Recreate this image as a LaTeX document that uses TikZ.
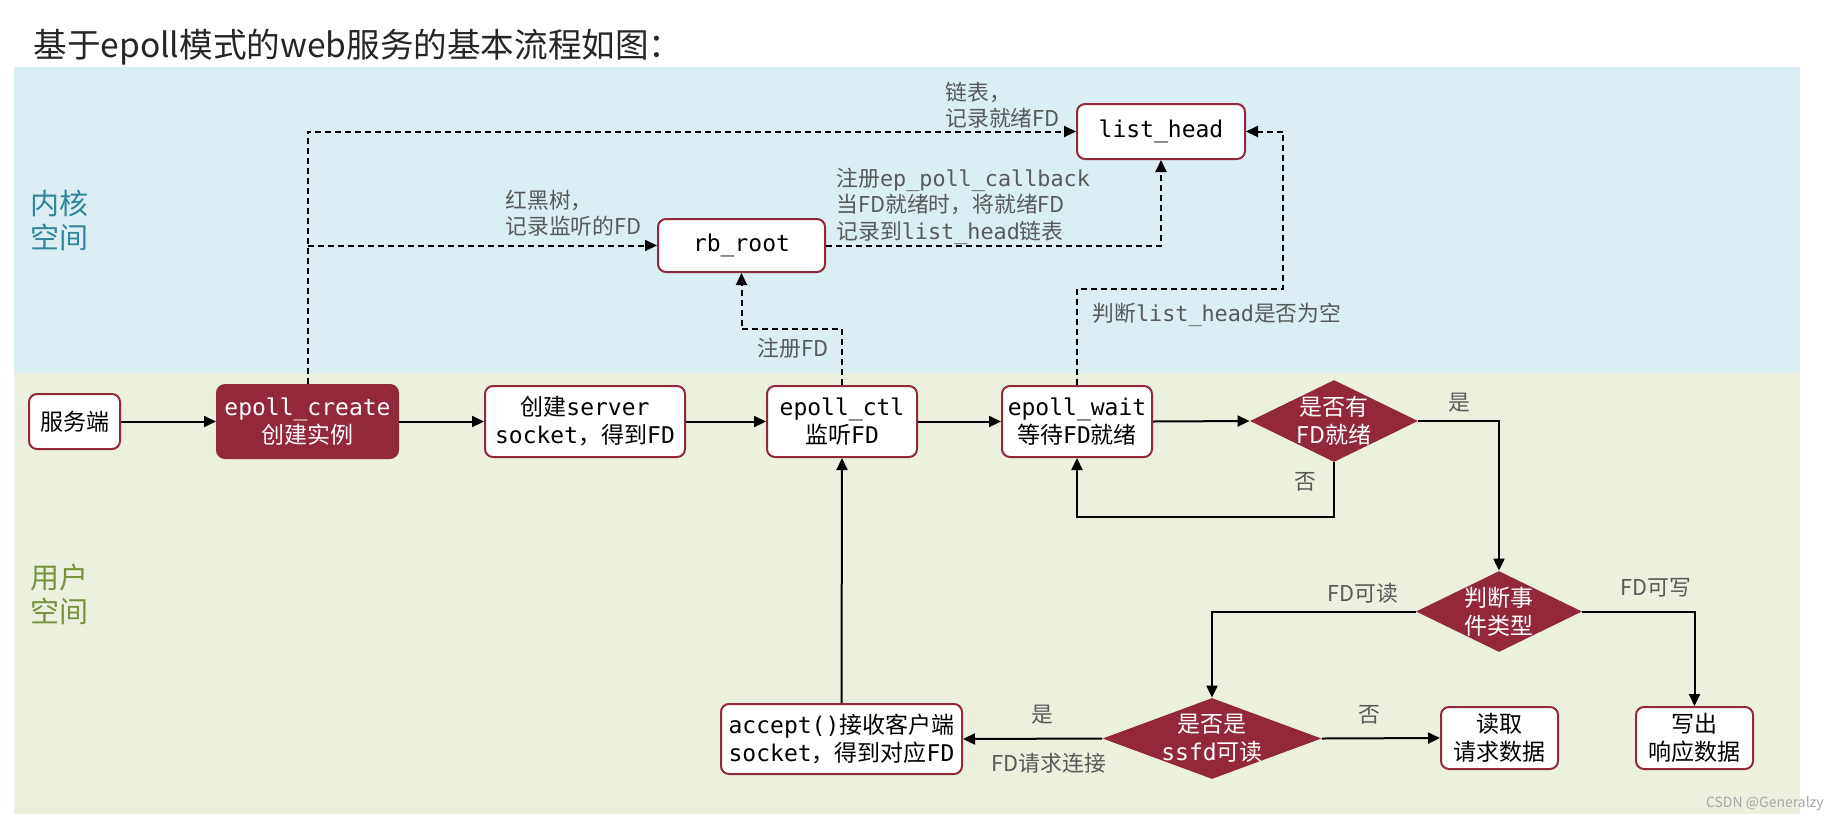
\documentclass[tikz,border=0pt]{standalone}
\usepackage{fontspec}
\setmainfont{Noto Sans CJK SC}
\setmonofont{DejaVu Sans Mono}
\usepackage{tikz}
\usetikzlibrary{shapes.geometric,arrows.meta}
\definecolor{darkred}{HTML}{92283A}
\definecolor{bandblue}{HTML}{DAEEF3}
\definecolor{bandgreen}{HTML}{EBF1DE}
\definecolor{kernelteal}{HTML}{31859C}
\definecolor{userolive}{HTML}{77933C}
\definecolor{notegrey}{HTML}{595959}
\definecolor{titlegrey}{HTML}{262626}
\newcommand\boxfont{\fontsize{11.5}{14}\selectfont}
\newcommand\notefont{\fontsize{10.9}{13.2}\selectfont}
\newcommand\sidefont{\fontsize{14.5}{17}\selectfont}
\tikzset{
      box/.style={draw=darkred, line width=1pt, fill=white, rounded corners=4pt,
                  align=center, inner sep=1pt, font=\boxfont},   % white step box
      redbox/.style={box, fill=darkred, text=white},             % highlighted box
      dia/.style={diamond, fill=darkred, inner sep=0pt},         % decision shape
      diatext/.style={text=white, align=center, font=\boxfont},
      note/.style={text=notegrey, align=left, inner sep=0pt, font=\notefont},
      flow/.style={line width=1pt, -{Triangle[length=6pt,width=5.5pt]}},
      dflow/.style={flow, dash pattern=on 3pt off 2pt}
}
\begin{document}
\begin{tikzpicture}[x=0.5pt,y=-0.5pt]
                  \useasboundingbox (0,0) rectangle (1844,821);
                  % kernel and user bands
                  \fill[bandblue] (14,67) rectangle (1800,373);
                  \fill[bandgreen] (14,373) rectangle (1800,814);
                  \node at (33,47) [anchor=west, inner sep=0pt, text=titlegrey,
                        font=\fontsize{16.8}{19}\selectfont] {基于epoll模式的web服务的基本流程如图：};
                  \node at (30,220) [anchor=west, align=left, inner sep=0pt, text=kernelteal, font=\sidefont] {内核\\空间};
                  \node at (30,594) [anchor=west, align=left, inner sep=0pt, text=userolive, font=\sidefont] {用户\\空间};

                  % main row
                  \node (srv) at (74.5,421.5) [box, minimum width=45.5pt, minimum height=27.5pt] {服务端};
                  \node (create) at (307.5,421.5) [redbox, minimum width=90.5pt, minimum height=36.5pt] {\texttt{epoll\_create}\\创建实例};
                  \node (sock) at (585,421.5) [box, minimum width=100pt, minimum height=35.5pt] {创建\texttt{server}\\\texttt{socket}，得到\texttt{FD}};
                  \node (ctl) at (842,421.5) [box, minimum width=75pt, minimum height=35.5pt] {\texttt{epoll\_ctl}\\监听\texttt{FD}};
                  \node (wait) at (1077,421.5) [box, minimum width=75pt, minimum height=35.5pt] {\texttt{epoll\_wait}\\等待\texttt{FD}就绪};
                  \node (ready) at (1334,421) [dia, minimum width=84pt, minimum height=41pt] {};
                  \node at (ready) [diatext] {是否有\\FD就绪};

                  % kernel structures
                  \node (rb) at (741.5,245.5) [box, minimum width=83.5pt, minimum height=26.5pt] {\texttt{rb\_root}};
                  \node (lh) at (1161,131.5) [box, minimum width=84pt, minimum height=27.5pt] {\texttt{list\_head}};

                  % event handling
                  \node (type) at (1499,611.5) [dia, minimum width=83pt, minimum height=40.5pt] {};
                  \node at (type) [diatext] {判断事\\件类型};
                  \node (ssfd) at (1212,738.5) [dia, minimum width=109.5pt, minimum height=40.5pt] {};
                  \node at (ssfd) [diatext] {是否是\\\texttt{ssfd}可读};
                  \node (acc) at (841.5,739) [box, minimum width=120.5pt, minimum height=35pt] {\texttt{accept()}接收客户端\\\texttt{socket}，得到对应\texttt{FD}};
                  \node (read) at (1499.5,738) [box, minimum width=58.5pt, minimum height=31pt] {读取\\请求数据};
                  \node (write) at (1694.5,738) [box, minimum width=58.5pt, minimum height=31pt] {写出\\响应数据};

                  % solid connectors
                  \draw[flow] (srv.east) -- (create.west);
                  \draw[flow] (create.east) -- (sock.west);
                  \draw[flow] (sock.east) -- (ctl.west);
                  \draw[flow] (ctl.east) -- (wait.west);
                  \draw[flow] (wait.east) -- (ready.west);
                  \coordinate (loop) at (1077,517);
                  \draw[flow] (ready.south) |- (loop) -- (wait.south);
                  \draw[flow] (ready.east) -| (type.north);
                  \draw[flow] (type.west) -| (ssfd.north);
                  \draw[flow] (type.east) -| (write.north);
                  \draw[flow] (ssfd.west) -- (acc.east);
                  \draw[flow] (ssfd.east) -- (read.west);
                  \draw[flow] (acc.north) -- (ctl.south);

                  % dashed connectors
                  \draw[dflow] (create.north) |- (lh.west);
                  \coordinate (fork) at (create.north |- rb.west);
                  \draw[dflow] (fork) -- (rb.west);
                  \draw[dflow] (rb.east) -| (lh.south);
                  \coordinate (reg) at (741.5,329);
                  \draw[dflow] (ctl.north) |- (reg) -- (rb.south);
                  \coordinate (chk) at (1283,289);
                  \draw[dflow] (wait.north) |- (chk) |- (lh.east);

                  % notes
                  \node (n1) at (945,105) [note, anchor=west] {链表，\\记录就绪FD};
                  \node (n2) at (505,213) [note, anchor=west] {红黑树，\\记录监听的FD};
                  \node (n3) at (836,206) [note, anchor=west] {注册\texttt{ep\_poll\_callback}\\当FD就绪时，将就绪FD\\记录到\texttt{list\_head}链表};
                  \node (n4) at (757,348) [note, anchor=west] {注册FD};
                  \node (n5) at (1092,315) [note, anchor=west] {判断\texttt{list\_head}是否为空};
                  \node (y1) at (1459,403) [note] {是};
                  \node (f1) at (1305,482) [note] {否};
                  \node (rd) at (1363,593) [note] {FD可读};
                  \node (wr) at (1656,588) [note] {FD可写};
                  \node (y2) at (1042,715) [note] {是};
                  \node (cn) at (1049,763) [note] {FD请求连接};
                  \node (f2) at (1369,715) [note] {否};
                  \node (wm) at (1824,804) [anchor=east, inner sep=0pt, text=black!35, font=\fontsize{7}{8}\selectfont] {CSDN @Generalzy};

            \end{tikzpicture}
\end{document}
